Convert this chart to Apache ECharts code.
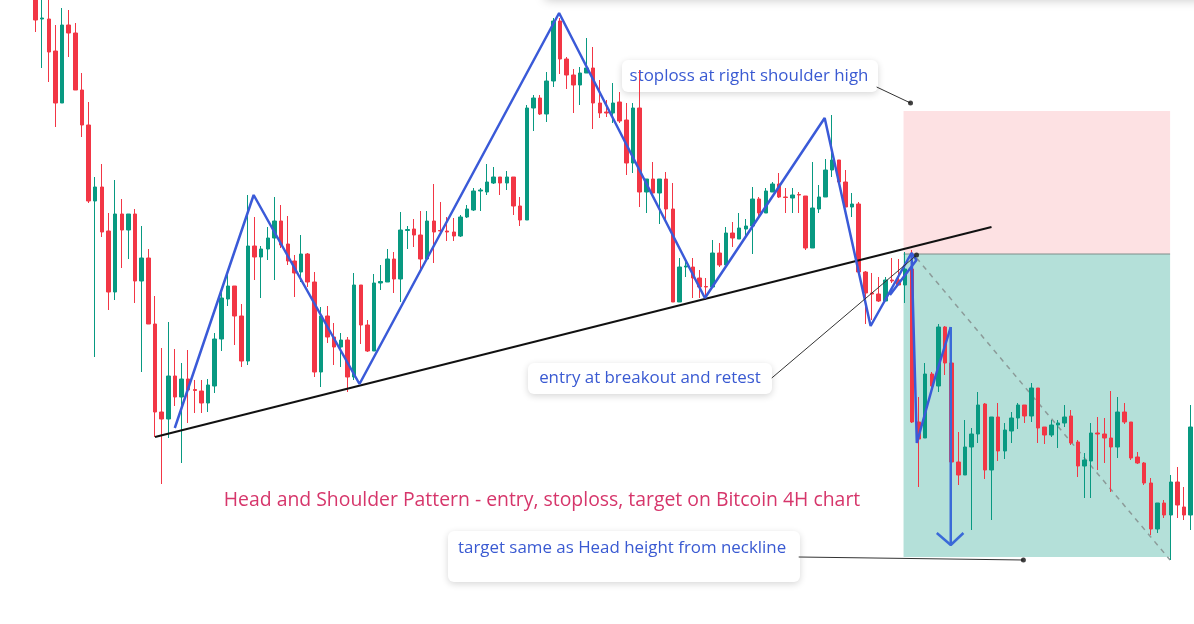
<!DOCTYPE html>
<html>
<head>
<meta charset="utf-8">
<script src="https://cdn.jsdelivr.net/npm/echarts@6/dist/echarts.min.js"></script>
<style>
html,body{margin:0;padding:0;background:#fff;}
#chart{width:1194px;height:624px;}
</style>
</head>
<body>
<div id="chart"></div>
<script>
// Candles as [open, close, low, high] (price units)
const downtrend = [
  [628,604,592,640],[605,606,556,632],[605,572,542,628],[573,521,497,599],[521,599,521,616],
  [599,591,567,614],[591,534,534,601],[534,499,487,551],[499,423,421,522],[423,437,267,447],
  [437,392,387,460],[393,332,314,411],[332,410,324,444],[410,394,356,425],[394,410,365,410],
  [410,343,321,415],[343,366,252,398],[366,300,300,375],[300,212,187,328],[212,205,140,276]
];
const leftShoulder = [
  [205,248,186,302],[248,227,218,275],[227,245,161,261],[245,234,201,274],[234.5,233.5,211,244],
  [233,221,211,244],[221,239,212,245],[238,285,231,291],[285,326,273,335],[325,338,318,352],
  [338,308,279,338],[308,263,257,320],[263,378,259,429],[378,367,344,407],[367,375,326,378],
  [375,386,364,397],[386,403,344,427],[403,379,376,419],[380,363,359,408],[363,351,327,369],
  [352,370,342,389],[370,342,337,371],[342,252,247,352],[252,308,237,317],[308,287,281,318],
  [287,277,259,301],[277,284,257,291],[284,247,232,287]
];
const head = [
  [247,339,244,351],[339,299,280,339],[299,273,272,304],[273,341,273,350],[341,342.5,334,359],
  [342,365,342,375],[365,345,331,372],[345,394,322,412],[393.5,394.5,375,398],[395,389,377,405],
  [389,365,355,413],[365,403,365,413],[403,392,361,440],[393.5,393,391,422],[393,392,383,407],
  [392,388,383,406],[388,407,387,409],[407,415,406,419],[414,433,413,436],[433,434,413,436],
  [432,442,429,460],[441,447,440,457],[447,441,429,447],[441,447,434,453],[447,418,409,447],
  [418,404,398,427],[404,516,404,519],[516,526,493,529],[526,510,509,529],[510,543,502,552],
  [543,603,537,606],[603,565,550,606],[565,549,535,567],[549,539,511,555],[539,551,519,557],
  [551,556,551,586],[556,521,495,577],[521,511,506,544],[512,511,507,524],[511,521,501,541],
  [522,503,501,532],[504,461,449,521],[461,516,451,521],[516,432,417,554],[432,445,411,445],
  [445,431,431,462],[431,445,400,445],[445,415,404,452],[415,322,322,441],[322,357,322,366],
  [357,358,347,365],[357,346,326,366],[346,337,326,354],[337.5,337,324,346]
];
const rightShoulder = [
  [337,371,337,384],[371,359,357,381],[359,391,359,397],[391,386,377,402],[385,396,385,411],
  [395,398,387,405],[398,425,370,437],[425,411,407,427],[411,433,411,436],[432,440,432,442],
  [440,427,426,451],[427,426.5,411,436],[426,429,411,436],[429.5,429,411,432],[428,376,374,428],
  [376,416,376,462],[415,427,411,439],[427,454,427,465],[454,464,447,509],[464,442,442,464],
  [442,417,417,454],[417,420,407,431],[420,352,350,422],[352,331,300,353],[331,330,304,351],
  [330,323,322,347],[323,344,323,347],[344,343,341,366],[344,339,339,365],[339,355,321,372]
];
const breakdown = [
  [355,202,201,374],[202,185,137,227],[186,250,186,261],[250,238,232,252],[238,297,232,300],
  [297,261,249,298],[261,162,162,261],[162,149,139,192],[149,177,149,204],[177,190,94,196],
  [190,219,181,232],[220,154,145,221],[154,207,104,207],[207,173,163,221],[173,194,165,201],
  [193,206,181,212],[206,219,195,221],[219,208,201,219],[208,236,202,241],[236,196,181,236],
  [197,189,180,197],[189,199,187,204],[199,201,176,204],[201,207,197,219],[208,181,179,214],
  [182,158,147,184],[158,164,126,171],[163,191,126,201],[191,190,154,207],[190,186,161,206],
  [186,177,132,233],[177,212,166,227],[212,202,200,221],[202,166,164,202],[167,161,160,172],
  [161,141,139,162],[141,95,89,146],[95,121,91,121],[121,109,106,124],[109,142,64,149],
  [142,119,106,157],[117,109,104,137],[109,197,94,219]
];

// Annotation points as [candle index, price]
const neckline = [[18,187],[144,397]];
const patternZigzag = [[20.98,196],[32.86,429],[48.8,240],[78.87,611],[100.83,326],[118.87,506],[125.79,298],[131.95,371],[132.7,364],[128.7,329]];
const breakdownPath = [[131.95,371],[132.75,181],[135.52,247],[137.26,284],[137.86,297]];
const targetArrow = [[137.86,297],[137.86,79]];
const arrowHead = [[135.76,91],[137.86,79],[139.77,91]];
const stopZone = [[130.75,513],[170.9,370]];
const targetZone = [[130.75,370],[170.9,67]];
const entryLevel = [[130.75,370],[170.9,370]];
const projection = [[132.71,366],[170.9,64]];
const stopPointer = [[126.7,537],[131.8,521]];
const entryPointer = [[110.9,246],[132.56,368]];
const targetPointer = [[114.96,67],[148.8,64]];
const markerDots = [[131.8,521],[132.71,369],[148.8,64]];

const candles = downtrend.concat(leftShoulder, head, rightShoulder, breakdown);
const categories = candles.map((_, i) => 'c' + i);

const labelColor = '#3a5ad2';
const font = '16.9px "Open Sans"';

function lineSeries(data, color, width, type, z) {
  return {
    type: 'line', xAxisIndex: 1, yAxisIndex: 0, data: data,
    symbol: 'none', silent: true, animation: false, z: z || 5,
    lineStyle: { color: color, width: width, type: type || 'solid' }
  };
}

function labelBox(x, y, w, h, text, tx, ty, align) {
  return {
    type: 'group', z: 100,
    children: [
      { type: 'rect', shape: { x: x, y: y, width: w, height: h, r: 6 },
        style: { fill: '#ffffff', shadowBlur: 7, shadowOffsetY: 2, shadowColor: 'rgba(0,0,0,0.16)' } },
      { type: 'text', style: { text: text, x: tx, y: ty, font: font, fill: labelColor,
        textAlign: align || 'center', textVerticalAlign: 'middle' } }
    ]
  };
}

const chart = echarts.init(document.getElementById('chart'));
chart.setOption({
  animation: false,
  backgroundColor: '#ffffff',
  grid: { left: 32.175, top: 0, width: 1163.75, height: 624, containLabel: false },
  xAxis: [
    { type: 'category', data: categories, boundaryGap: true, show: false },
    { type: 'value', min: -0.5, max: 174.5, show: false }
  ],
  yAxis: { type: 'value', min: 0, max: 624, show: false, splitLine: { show: false } },
  series: [
    {
      type: 'line', xAxisIndex: 1, data: [], z: 0, silent: true,
      markArea: {
        silent: true,
        data: [
          [{ coord: stopZone[0], itemStyle: { color: 'rgba(242,54,69,0.15)' } }, { coord: stopZone[1] }],
          [{ coord: targetZone[0], itemStyle: { color: 'rgba(8,153,129,0.30)' } }, { coord: targetZone[1] }]
        ]
      }
    },
    lineSeries(entryLevel, '#7f8c8a', 1, 'solid', 1),
    lineSeries(projection, '#8c9b99', 1.5, [5, 5], 1),
    {
      type: 'candlestick', data: candles, xAxisIndex: 0, z: 2, barWidth: 4, silent: true,
      itemStyle: { color: '#089981', color0: '#f23645', borderColor: '#089981', borderColor0: '#f23645', borderWidth: 1 }
    },
    lineSeries(neckline, '#111111', 2, 'solid', 6),
    lineSeries(patternZigzag, '#3a5ad8', 2.5, 'solid', 7),
    lineSeries(breakdownPath, '#3a5ad8', 2.5, 'solid', 7),
    lineSeries(targetArrow, '#3a6ad8', 2.5, 'solid', 7),
    lineSeries(arrowHead, '#3a6ad8', 2.5, 'solid', 7),
    lineSeries(stopPointer, '#333333', 1, 'solid', 8),
    lineSeries(entryPointer, '#333333', 1, 'solid', 8),
    lineSeries(targetPointer, '#333333', 1, 'solid', 8),
    {
      type: 'scatter', xAxisIndex: 1, data: markerDots, symbolSize: 5, z: 9, silent: true,
      itemStyle: { color: '#111111' }
    }
  ],
  graphic: [
    { type: 'rect', z: 90, shape: { x: 545, y: -40, width: 700, height: 40 },
      style: { fill: '#ffffff', shadowBlur: 10, shadowColor: 'rgba(0,0,0,0.22)' } },
    labelBox(622, 60, 256, 32, 'stoploss at right shoulder high', 749, 76),
    labelBox(528, 363, 244, 31, 'entry at breakout and retest', 650, 378),
    labelBox(448, 531, 352, 51, 'target same as Head height from neckline', 458, 548, 'left'),
    { type: 'text', z: 100, style: { text: 'Head and Shoulder Pattern - entry, stoploss, target on Bitcoin 4H chart',
      x: 542, y: 500, font: '19.4px "Open Sans"', fill: '#d6366b', textAlign: 'center', textVerticalAlign: 'middle' } }
  ]
});
</script>
</body>
</html>
